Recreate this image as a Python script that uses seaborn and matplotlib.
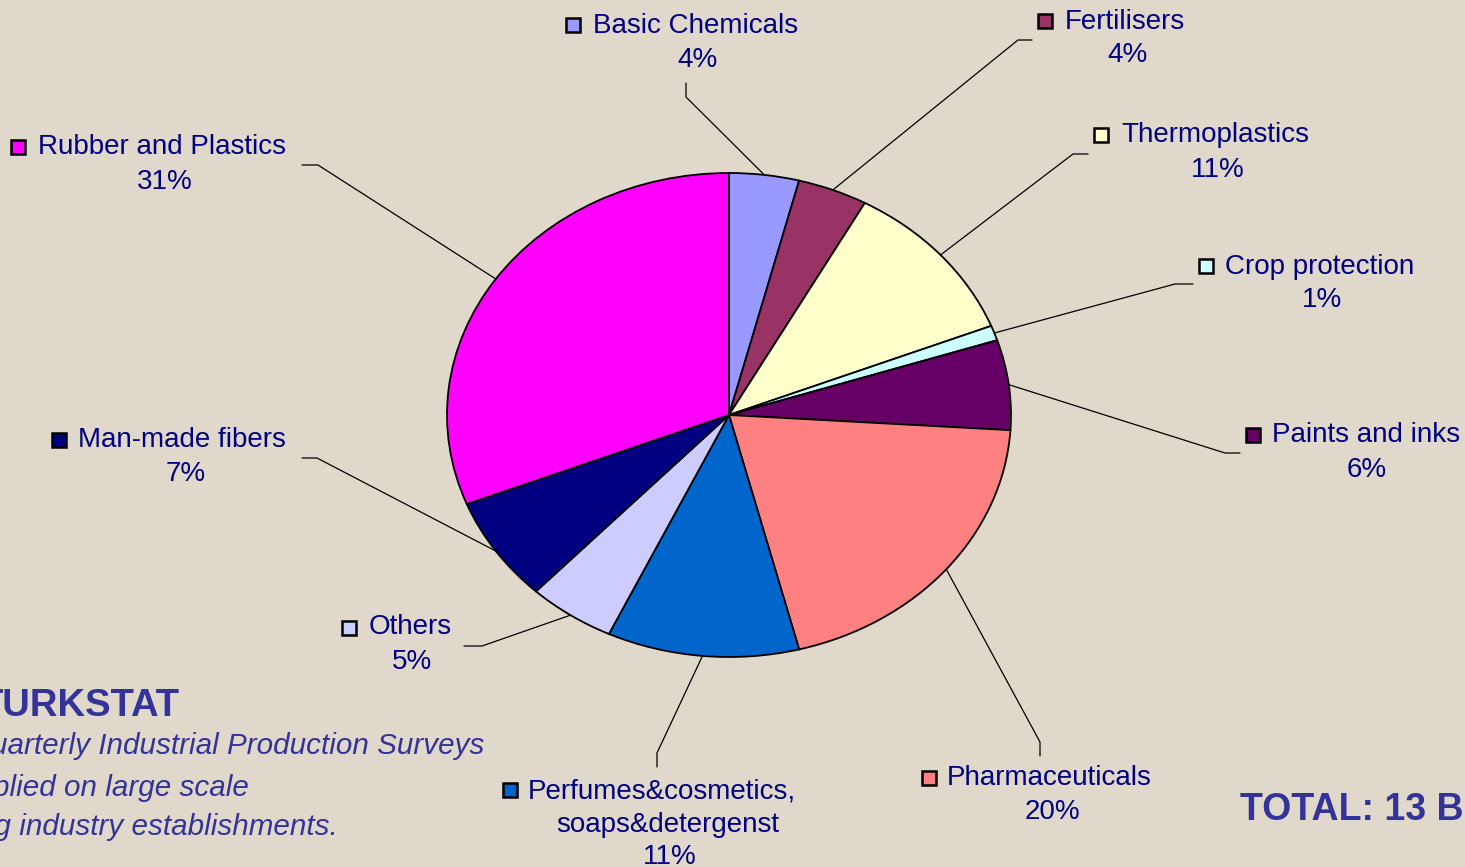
# Chemical industry production shares - pie chart

import numpy as np
import matplotlib
matplotlib.use('Agg')
import matplotlib.pyplot as plt
import seaborn as sns

# data
categorias = ['Basic Chemicals', 'Fertilisers', 'Thermoplastics', 'Crop protection',
              'Paints and inks', 'Pharmaceuticals', 'Perfumes&cosmetics,\nsoaps&detergenst',
              'Others', 'Man-made fibers', 'Rubber and Plastics']
valores = [4, 4, 11, 1, 6, 20, 11, 5, 7, 31]
cores = ['#9999FF', '#993366', '#FFFFCC', '#CCFFFF', '#660066',
         '#FF8080', '#0066CC', '#CCCCFF', '#000080', '#FF00FF']

# label layout (pixels): marker centre, text left, pct centre
layout_rotulos = [
    ((573, 25), (593, 26), (697, 60)),
    ((1045, 21), (1065, 22), (1127, 55)),
    ((1101, 135), (1121, 135), (1218, 170)),
    ((1206, 266), (1225, 267), (1322, 300)),
    ((1253, 435), (1272, 435), (1367, 470)),
    ((929, 778), (947, 778), (1052, 812)),
    ((510, 790), (528, 791), (670, 857)),
    ((349, 628), (369, 627), (412, 662)),
    ((59, 440), (78, 440), (186, 474)),
    ((18, 147), (38, 147), (165, 182)),
]
# leader lines: elbow and end point (pixels)
guias = [
    ((686, 97), (686, 83)),
    ((1018, 40), (1032, 40)),
    ((1073, 154), (1088, 154)),
    ((1175, 284), (1193, 284)),
    ((1225, 453), (1240, 453)),
    ((1040, 742), (1040, 756)),
    ((657, 753), (657, 767)),
    ((482, 646), (464, 646)),
    ((317, 458), (302, 458)),
    ((318, 165), (302, 165)),
]

sns.set_style('white')
plt.rcParams['font.family'] = ['Liberation Sans', 'DejaVu Sans']

W, H = 1465, 867
fundo = '#E0D8CA'
azul = '#000080'
fs = 20
fig = plt.figure(figsize=(W / 100, H / 100), dpi=100, facecolor=fundo)

# pie centre / radii in pixels
cx, cy, rx, ry = 729, 415, 282, 242
ax_pie = fig.add_axes([(cx - rx) / W, (H - cy - ry) / H, 2 * rx / W, 2 * ry / H])
ax_pie.pie(valores, colors=cores, startangle=90, counterclock=False,
           wedgeprops=dict(edgecolor='black', linewidth=1.3))
ax_pie.set_aspect('auto')
ax_pie.set_xlim(-1, 1)
ax_pie.set_ylim(-1, 1)
ax_pie.axis('off')

# overlay axes in pixel coordinates
ax_top = fig.add_axes([0, 0, 1, 1])
ax_top.set_xlim(0, W)
ax_top.set_ylim(H, 0)
ax_top.axis('off')

total = sum(valores)
acum = 0
for i, (cat, v) in enumerate(zip(categorias, valores)):
    meio = 90 - (acum + v / 2) / total * 360
    acum += v
    ex = cx + rx * np.cos(np.radians(meio))
    ey = cy - ry * np.sin(np.radians(meio))
    (cotovelo, fim) = guias[i]
    ax_top.plot([ex, cotovelo[0], fim[0]], [ey, cotovelo[1], fim[1]],
                color='black', lw=0.9, solid_joinstyle='miter')

    (mx, my), (tx, ty), (px, py) = layout_rotulos[i]
    ax_top.plot(mx, my, marker='s', ms=10.5, mfc=cores[i], mec='black', mew=1.8)
    linhas = cat.split('\n')
    ax_top.text(tx, ty, linhas[0], color=azul, fontsize=fs, ha='left', va='center')
    if len(linhas) > 1:
        ax_top.text(668, ty + 34, linhas[1], color=azul, fontsize=fs,
                    ha='center', va='center')
    ax_top.text(px, py, f'{v}%', color=azul, fontsize=fs, ha='center', va='center')

# source notes and total (cut at the edges as in the original slide)
roxo = '#333399'
ax_top.text(180, 706, 'TURKSTAT', color=roxo, fontsize=27.5, fontweight='bold',
            ha='right', va='center')
ax_top.text(484, 746, 'Quarterly Industrial Production Surveys', color=roxo,
            fontsize=21.3, style='italic', ha='right', va='center')
ax_top.text(249, 788, 'applied on large scale', color=roxo,
            fontsize=21.3, style='italic', ha='right', va='center')
ax_top.text(338, 827, 'manufacturing industry establishments.', color=roxo,
            fontsize=21.3, style='italic', ha='right', va='center')
ax_top.text(1240, 810, 'TOTAL: 13 B', color=roxo, fontsize=27, fontweight='bold',
            ha='left', va='center')

fig.savefig('out.png', dpi=100, facecolor=fundo)
